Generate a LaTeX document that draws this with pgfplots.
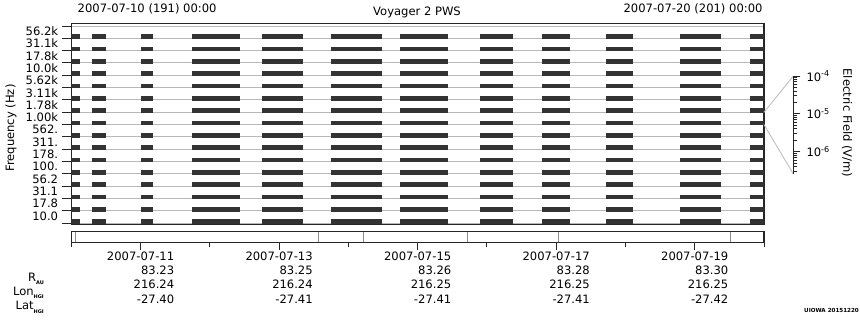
\documentclass[border=0pt]{standalone}
\usepackage{pgfplots}
\pgfplotsset{compat=1.18}
\usepackage{pgfplotstable}
\usepackage{fontspec}
\setmainfont{DejaVu Sans}

% segment start/end times (days since 2007-07-10 00:00), nan = gap
\pgfplotstableread{
t      g
0.000  0
0.126  0
nan    nan
0.299  0
0.501  0
nan    nan
1.006  0
1.179  0
nan    nan
1.742  0
2.435  0
nan    nan
2.753  0
3.345  0
nan    nan
3.749  0
4.485  0
nan    nan
4.745  0
5.438  0
nan    nan
5.900  0
6.377  0
nan    nan
6.795  0
7.200  0
nan    nan
7.719  0
8.109  0
nan    nan
8.787  0
9.379  0
nan    nan
9.798  0
10.000 0
}\segs

\newcommand\sub[1]{\raisebox{-0.5ex}{\fontsize{5}{5}\selectfont\bfseries #1}}

\begin{document}
\fontsize{11.6}{14.4}\selectfont
\begin{tikzpicture}
\path[use as bounding box] (0bp,0bp) rectangle (860bp,-320bp);

% titles
\node[anchor=base west, inner sep=0pt] at (77.5bp,-12.5bp) {2007-07-10 (191) 00:00};
\node[anchor=base, inner sep=0pt] at (417bp,-15bp) {Voyager 2 PWS};
\node[anchor=base east, inner sep=0pt] at (762.7bp,-12.5bp) {2007-07-20 (201) 00:00};
\node[rotate=90, inner sep=0pt] at (11bp,-128bp) {Frequency (Hz)};
\node[rotate=-90, inner sep=0pt] at (847bp,-123bp) {Electric Field (V/m)};

% main panel
\begin{axis}[
  at={(71.3bp,-224.3bp)}, anchor=south west,
  scale only axis, width=692.7bp, height=201bp,
  xmin=0, xmax=10, ymin=-0.081, ymax=16.219,
  xtick=\empty,
  ytick={0.59,1.59,2.59,3.59,4.59,5.59,6.59,7.59,8.59,9.59,10.59,11.59,12.59,13.59,14.59,15.59},
  yticklabels={10.0,17.8,31.1,56.2,100.,178.,311.,562.,1.00k,1.78k,3.11k,5.62k,10.0k,17.8k,31.1k,56.2k},
  minor ytick={0,1,2,3,4,5,6,7,8,9,10,11,12,13,14,15,16},
  ytick pos=left,
  tick align=outside,
  major tick length=0pt, minor tick length=9bp,
  yminorgrids=true,
  minor grid style={color=black!28, line width=1bp},
  tick style={black!85, line width=1bp},
  axis line style={black!85, line width=1.2bp},
  yticklabel style={anchor=east, inner sep=0pt, xshift=-13bp, font=\fontsize{11.6}{12}\selectfont},
  unbounded coords=jump,
]
\pgfplotsinvokeforeach{0,...,15}{
  \addplot[black!80, line width=4.7bp, no marks] table[x=t, y expr=#1+0.14+\thisrow{g}] {\segs};
}
\end{axis}

% zoom lines to scale
\draw[black!25, line width=0.9bp] (764bp,-112.3bp) -- (793.3bp,-76bp);
\draw[black!25, line width=0.9bp] (764bp,-124.6bp) -- (793.3bp,-174bp);

% coverage strip with time axis
\begin{axis}[
  at={(71.3bp,-242.3bp)}, anchor=south west,
  scale only axis, width=692.7bp, height=10.6bp,
  xmin=0, xmax=10, ymin=0, ymax=1,
  ytick=\empty,
  xtick={1,3,5,7,9},
  minor xtick={0,2,4,6,8,10},
  xtick pos=bottom,
  tick align=outside,
  major tick length=7.7bp, minor tick length=4.4bp,
  tick style={black!85, line width=1bp},
  axis line style={black!85, line width=1.2bp},
  xticklabels={
    {\begin{tabular}{@{}r@{}}2007-07-11\\83.23\\216.24\\-27.40\end{tabular}},
    {\begin{tabular}{@{}r@{}}2007-07-13\\83.25\\216.24\\-27.41\end{tabular}},
    {\begin{tabular}{@{}r@{}}2007-07-15\\83.26\\216.25\\-27.41\end{tabular}},
    {\begin{tabular}{@{}r@{}}2007-07-17\\83.28\\216.25\\-27.41\end{tabular}},
    {\begin{tabular}{@{}r@{}}2007-07-19\\83.30\\216.25\\-27.42\end{tabular}}},
  xticklabel style={anchor=north, inner sep=0pt, font=\fontsize{11.6}{14.4}\selectfont},
]
\addplot[ycomb, black!45, line width=1bp, no marks] coordinates {(0.058,1) (3.566,1) (4.215,1) (5.717,1) (7.030,1) (9.519,1)};
\end{axis}

\node[anchor=north east, inner sep=0pt] at (44bp,-271bp)
  {\begin{tabular}{@{}r@{}}R\sub{AU}\\Lon\sub{HGI}\\Lat\sub{HGI}\end{tabular}};

% electric field scale
\begin{axis}[
  at={(793.3bp,-174bp)}, anchor=south east,
  scale only axis, width=1bp, height=98bp,
  xmin=0, xmax=1, ymode=log, ymin=2.57e-7, ymax=1e-4,
  axis x line=none, axis y line*=right,
  ytick={1e-6,1e-5,1e-4},
  yticklabels={10\textsuperscript{-6},10\textsuperscript{-5},10\textsuperscript{-4}},
  minor ytick={3e-7,4e-7,5e-7,6e-7,7e-7,8e-7,9e-7,2e-6,3e-6,4e-6,5e-6,6e-6,7e-6,8e-6,9e-6,2e-5,3e-5,4e-5,5e-5,6e-5,7e-5,8e-5,9e-5},
  tick align=outside,
  major tick length=7bp, minor tick length=4bp,
  tick style={black!85, line width=0.8bp},
  axis line style={black!85, line width=1bp},
  yticklabel style={anchor=west, inner sep=0pt, xshift=6bp, font=\fontsize{11.6}{12}\selectfont},
]
\addplot[draw=none] coordinates {(0.5,1e-5)};
\end{axis}

\node[anchor=east, inner sep=0pt, font=\fontsize{5.6}{6}\selectfont\bfseries] at (859bp,-310.7bp) {UIOWA 20151220};
\end{tikzpicture}
\end{document}
